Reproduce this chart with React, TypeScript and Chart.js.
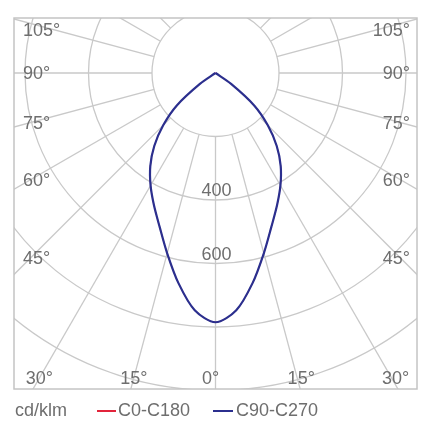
import React, { useEffect, useRef } from "react";
import { Chart, registerables } from "chart.js";

Chart.register(...registerables);

// ---- data ----
const GAMMA = [0, 5, 10, 15, 20, 25, 30, 35, 40, 45, 50, 55, 60, 65, 70, 75, 80, 85, 90];
const C0_C180 = [785, 750, 672, 588, 515, 459, 409, 358, 300, 233, 159, 60, 0, 0, 0, 0, 0, 0, 0];
const C90_C270 = [785, 750, 672, 588, 515, 459, 409, 358, 300, 233, 159, 60, 0, 0, 0, 0, 0, 0, 0];
const SERIES_LABELS = ["C0-C180", "C90-C270"];
const SERIES_COLORS = ["#e2243b", "#2b2f8e"];
const RING_VALUES = [200, 400, 600, 800, 1000, 1200, 1400];
const RING_LABEL_VALUES = [400, 600];
const SPOKE_ANGLES = [0, 15, 30, 45, 60, 75, 90, 105, 120, 135, 150, 165, 180, 195, 210, 225, 240, 255, 270, 285, 300, 315, 330, 345];
const SIDE_ANGLE_LABELS = [105, 90, 75, 60, 45];
const BOTTOM_ANGLE_LABELS = [30, 15, 0];
const UNIT_LABEL = "cd/klm";

const GRID_COLOR = "#c9c9c9";
const TEXT_COLOR = "#6e6e6e";
const FONT = "18px 'Liberation Sans', Arial, sans-serif";

const rad = (d: number) => (d * Math.PI) / 180;

function toPolarPoints(values: number[]) {
  const pts: { x: number; y: number }[] = [];
  for (let i = GAMMA.length - 1; i >= 0; i--) {
    const g = rad(GAMMA[i]);
    pts.push({ x: -values[i] * Math.sin(g), y: -values[i] * Math.cos(g) });
  }
  for (let i = 1; i < GAMMA.length; i++) {
    const g = rad(GAMMA[i]);
    pts.push({ x: values[i] * Math.sin(g), y: -values[i] * Math.cos(g) });
  }
  return pts;
}

const gridPlugin = {
  id: "polarGrid",
  beforeDatasetsDraw(chart: any) {
    const { ctx, chartArea: a, scales } = chart;
    const xs = scales.x;
    const ys = scales.y;
    const cx = xs.getPixelForValue(0);
    const cy = ys.getPixelForValue(0);
    const k = xs.getPixelForValue(1) - cx;

    ctx.save();
    ctx.beginPath();
    ctx.rect(a.left, a.top, a.right - a.left, a.bottom - a.top);
    ctx.clip();

    ctx.strokeStyle = GRID_COLOR;
    ctx.lineWidth = 1.3;
    for (const v of RING_VALUES) {
      ctx.beginPath();
      ctx.arc(cx, cy, v * k, 0, Math.PI * 2);
      ctx.stroke();
    }
    const r0 = RING_VALUES[0] * k;
    const r1 = 4000 * k;
    for (const ang of SPOKE_ANGLES) {
      const g = rad(ang);
      const dx = Math.sin(g);
      const dy = Math.cos(g);
      ctx.beginPath();
      ctx.moveTo(cx + dx * r0, cy + dy * r0);
      ctx.lineTo(cx + dx * r1, cy + dy * r1);
      ctx.stroke();
    }
    ctx.restore();

    ctx.save();
    ctx.strokeStyle = "#c4c4c4";
    ctx.lineWidth = 1.5;
    ctx.strokeRect(a.left, a.top, a.right - a.left, a.bottom - a.top);
    ctx.restore();

    ctx.save();
    ctx.fillStyle = TEXT_COLOR;
    ctx.font = FONT;

    ctx.textAlign = "center";
    ctx.textBaseline = "alphabetic";
    for (const v of RING_LABEL_VALUES) {
      ctx.fillText(String(v), cx + 1, cy + v * k - 4);
    }

    ctx.textBaseline = "middle";
    const probeL = a.left + 16;
    const probeR = a.right - 16;
    for (const ang of SIDE_ANGLE_LABELS) {
      const g = rad(ang);
      const tL = (cx - probeL) / Math.sin(g);
      let yL = cy + tL * Math.cos(g);
      yL = Math.max(yL, a.top + 12);
      ctx.textAlign = "left";
      ctx.fillText(ang + "°", a.left + 9, yL + 1);
      const tR = (probeR - cx) / Math.sin(g);
      let yR = cy + tR * Math.cos(g);
      yR = Math.max(yR, a.top + 12);
      ctx.textAlign = "right";
      ctx.fillText(ang + "°", a.right - 7, yR + 1);
    }

    const yb = a.bottom - 11;
    ctx.textAlign = "center";
    for (const ang of BOTTOM_ANGLE_LABELS) {
      const off = (yb - cy) * Math.tan(rad(ang));
      if (ang === 0) {
        ctx.fillText("0°", cx - 5, yb + 1);
        continue;
      }
      ctx.fillText(ang + "°", cx - off, yb + 1);
      ctx.fillText(ang + "°", cx + off + 4, yb + 1);
    }
    ctx.restore();
  },
  afterDraw(chart: any) {
    const { ctx, chartArea: a } = chart;
    const ly = a.bottom + 22;
    ctx.save();
    ctx.font = FONT;
    ctx.fillStyle = TEXT_COLOR;
    ctx.textBaseline = "middle";
    ctx.textAlign = "left";
    ctx.fillText(UNIT_LABEL, a.left + 1, ly);
    const items = [
      { x0: 97, x1: 116, tx: 118 },
      { x0: 213, x1: 233, tx: 236 },
    ];
    chart.data.datasets.forEach((ds: any, i: number) => {
      const it = items[i];
      ctx.strokeStyle = ds.borderColor;
      ctx.lineWidth = 2;
      ctx.beginPath();
      ctx.moveTo(it.x0, ly);
      ctx.lineTo(it.x1, ly);
      ctx.stroke();
      ctx.fillText(ds.label, it.tx, ly);
    });
    ctx.restore();
  },
};

export default function App() {
  const canvasRef = useRef<HTMLCanvasElement | null>(null);

  useEffect(() => {
    const canvas = canvasRef.current;
    if (!canvas) return;
    const k = 63.5 / 200;
    const cxPx = 215.5;
    const cyPx = 73;
    const left = 14, right = 417, top = 18, bottom = 389;
    const chart = new Chart(canvas, {
      type: "scatter",
      data: {
        datasets: [
          {
            label: SERIES_LABELS[0],
            data: toPolarPoints(C0_C180),
            borderColor: SERIES_COLORS[0],
            backgroundColor: SERIES_COLORS[0],
            showLine: true,
            pointRadius: 0,
            borderWidth: 1,
            tension: 0.3,
            order: 2,
          },
          {
            label: SERIES_LABELS[1],
            data: toPolarPoints(C90_C270),
            borderColor: SERIES_COLORS[1],
            backgroundColor: SERIES_COLORS[1],
            showLine: true,
            pointRadius: 0,
            borderWidth: 2.2,
            tension: 0.3,
            order: 1,
          },
        ],
      },
      options: {
        animation: false,
        responsive: false,
        layout: { padding: { left, top, right: 430 - right, bottom: 430 - bottom } },
        scales: {
          x: { type: "linear", display: false, min: (left - cxPx) / k, max: (right - cxPx) / k },
          y: { type: "linear", display: false, min: -(bottom - cyPx) / k, max: (cyPx - top) / k },
        },
        plugins: {
          legend: { display: false },
          tooltip: { enabled: false },
        },
      },
      plugins: [gridPlugin],
    });
    return () => chart.destroy();
  }, []);

  return (
    <div style={{ position: "fixed", left: 0, top: 0, width: 430, height: 430, background: "#fff" }}>
      <canvas ref={canvasRef} width={430} height={430} style={{ width: 430, height: 430, display: "block" }} />
    </div>
  );
}
